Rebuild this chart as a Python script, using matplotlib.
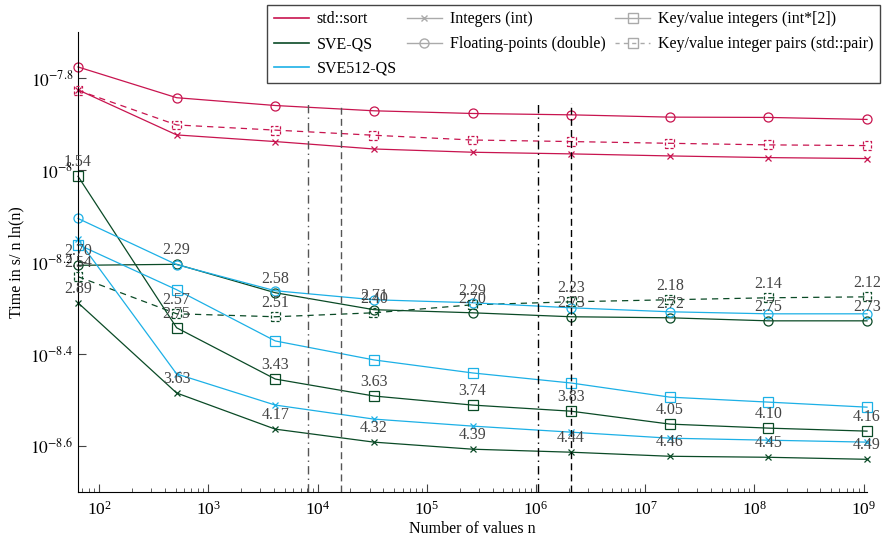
import matplotlib
matplotlib.use("Agg")
import matplotlib.pyplot as plt
from matplotlib.lines import Line2D
from matplotlib.ticker import LogLocator, NullFormatter, NullLocator

plt.rcParams['font.family'] = ['Liberation Serif', 'DejaVu Serif']
plt.rcParams['mathtext.fontset'] = 'stix'

# number of values
n = [64, 512, 4096, 32768, 262144, 2097152, 16777216, 134217728, 1073741824]

# std::sort
sort_int = [1.494e-8, 1.192e-8, 1.153e-8, 1.111e-8, 1.093e-8, 1.084e-8, 1.073e-8, 1.064e-8, 1.059e-8]
sort_double = [1.675e-8, 1.436e-8, 1.381e-8, 1.345e-8, 1.327e-8, 1.318e-8, 1.303e-8, 1.301e-8, 1.288e-8]
sort_pair = [1.49e-8, 1.253e-8, 1.221e-8, 1.19e-8, 1.162e-8, 1.153e-8, 1.143e-8, 1.134e-8, 1.130e-8]

# SVE-QS
sve_int = [5.145e-9, 3.275e-9, 2.733e-9, 2.561e-9, 2.472e-9, 2.435e-9, 2.386e-9, 2.374e-9, 2.350e-9]
sve_double = [6.206e-9, 6.237e-9, 5.41e-9, 4.97e-9, 4.893e-9, 4.797e-9, 4.772e-9, 4.70e-9, 4.70e-9]
sve_kv = [9.69e-9, 4.54e-9, 3.512e-9, 3.226e-9, 3.083e-9, 2.99e-9, 2.803e-9, 2.747e-9, 2.706e-9]
sve_pair = [5.864e-9, 4.869e-9, 4.797e-9, 4.893e-9, 5.093e-9, 5.17e-9, 5.223e-9, 5.275e-9, 5.30e-9]

# SVE512-QS
sve512_int = [7.062e-9, 3.603e-9, 3.083e-9, 2.874e-9, 2.775e-9, 2.692e-9, 2.612e-9, 2.586e-9, 2.561e-9]
sve512_double = [7.846e-9, 6.227e-9, 5.464e-9, 5.223e-9, 5.145e-9, 5.017e-9, 4.918e-9, 4.868e-9, 4.868e-9]
sve512_kv = [6.887e-9, 5.492e-9, 4.25e-9, 3.865e-9, 3.621e-9, 3.443e-9, 3.208e-9, 3.129e-9, 3.051e-9]

# speedup labels of SVE-QS
lab_int = ['2.89', '3.63', '4.17', '4.32', '4.39', '4.44', '4.46', '4.45', '4.49']
lab_double = ['2.70', '2.29', '2.58', '2.71', '2.70', '2.73', '2.72', '2.75', '2.73']
lab_kv = ['1.54', '2.75', '3.43', '3.63', '3.74', '3.83', '4.05', '4.10', '4.16']
lab_pair = ['2.54', '2.57', '2.51', '2.40', '2.29', '2.23', '2.18', '2.14', '2.12']

# cache sizes (vertical marks)
cache_gray = [8192, 16384]
cache_black = [1048576, 2097152]
cache_top = 1.40e-8

red = '#c8144f'
green = '#0a4a26'
blue = '#1cb0e6'

fig = plt.figure(figsize=(8.84, 5.35), dpi=100)
ax = fig.add_axes([78 / 884, 43 / 535, 789 / 884, 460 / 535])

lw = 0.9
ms = 6.5


def draw(color, vals_int, vals_double, vals_kv=None, vals_pair=None):
    ax.plot(n, vals_int, '-', color=color, lw=lw, marker='x', ms=5, mew=0.9, clip_on=False)
    ax.plot(n, vals_double, '-', color=color, lw=lw, marker='o', ms=ms, mfc='none', mew=0.9,
            clip_on=False)
    if vals_kv is not None:
        ax.plot(n, vals_kv, '-', color=color, lw=lw, marker='s', ms=ms, mfc='none', mew=0.9,
                clip_on=False)
    if vals_pair is not None:
        ax.plot(n, vals_pair, color=color, lw=lw, ls=(0, (5, 4)))
        ax.scatter(n, vals_pair, marker='s', s=40, facecolors='none', edgecolors=color,
                   linewidths=0.9, linestyles=(0, (2.5, 1.5)), zorder=3, clip_on=False)


draw(red, sort_int, sort_double, None, sort_pair)
draw(green, sve_int, sve_double, sve_kv, sve_pair)
draw(blue, sve512_int, sve512_double, sve512_kv)

for vals, labs in [(sve_kv, lab_kv), (sve_double, lab_double), (sve_pair, lab_pair), (sve_int, lab_int)]:
    for x, y, t in zip(n, vals, labs):
        ax.annotate(t, (x, y), xytext=(0, 10), textcoords='offset points',
                    ha='center', va='center', fontsize=11.5, color='#444444')

for c in cache_gray:
    ax.vlines(c, 10 ** -8.7, cache_top, colors='#555555', lw=1,
              linestyles=(0, (6, 3, 1, 3)) if c == cache_gray[0] else (0, (5, 3)))
for c in cache_black:
    ax.vlines(c, 10 ** -8.7, cache_top, colors='black', lw=1,
              linestyles=(0, (6, 3, 1, 3)) if c == cache_black[0] else (0, (5, 3)))

ax.set_xscale('log')
ax.set_yscale('log')
ax.set_xlim(64, 2 ** 30)
ax.set_ylim(10 ** -8.7, 10 ** -7.7)

ax.xaxis.set_major_locator(LogLocator(base=10, numticks=20))
ax.xaxis.set_minor_locator(LogLocator(base=10, subs=range(2, 10), numticks=100))
ax.xaxis.set_minor_formatter(NullFormatter())
yt = [-8.6, -8.4, -8.2, -8.0, -7.8]
ax.set_yticks([10 ** v for v in yt])
ax.set_yticklabels([r'$10^{%g}$' % v for v in yt])
ax.yaxis.set_minor_locator(NullLocator())

ax.tick_params(which='both', direction='in', labelsize=12.5, color='#444444')
ax.tick_params(which='major', length=6)
ax.tick_params(which='minor', length=3)
ax.tick_params(axis='x', pad=6)
for s in ['top', 'right']:
    ax.spines[s].set_visible(False)

ax.set_xlabel('Number of values n', fontsize=11.5, labelpad=2)
ax.set_ylabel('Time in s/ n ln(n)', fontsize=11.5)

handles = [
    Line2D([], [], color=red, lw=1.2),
    Line2D([], [], color=green, lw=1.2),
    Line2D([], [], color=blue, lw=1.2),
    Line2D([], [], color='#aaaaaa', lw=1, marker='x', ms=5),
    Line2D([], [], color='#aaaaaa', lw=1, marker='o', ms=ms, mfc='none'),
    Line2D([], [], color='#aaaaaa', lw=1, marker='s', ms=ms, mfc='none'),
    Line2D([], [], color='#aaaaaa', lw=1, ls=(0, (3, 3)), marker='s', ms=ms, mfc='none'),
]
labels = ['std::sort', 'SVE-QS', 'SVE512-QS', 'Integers (int)', 'Floating-points (double)',
          'Key/value integers (int*[2])', 'Key/value integer pairs (std::pair)']
leg = fig.legend(handles, labels, ncol=3, loc='upper right',
                 bbox_to_anchor=(880 / 884, 1 - 5 / 535), fontsize=11.5,
                 fancybox=False, edgecolor='#444444', framealpha=1,
                 handlelength=2.2, columnspacing=0.6, handletextpad=0.5,
                 labelspacing=0.55, borderpad=0.4, borderaxespad=0)
leg.get_frame().set_linewidth(1)

fig.savefig('out.png', dpi=100)
